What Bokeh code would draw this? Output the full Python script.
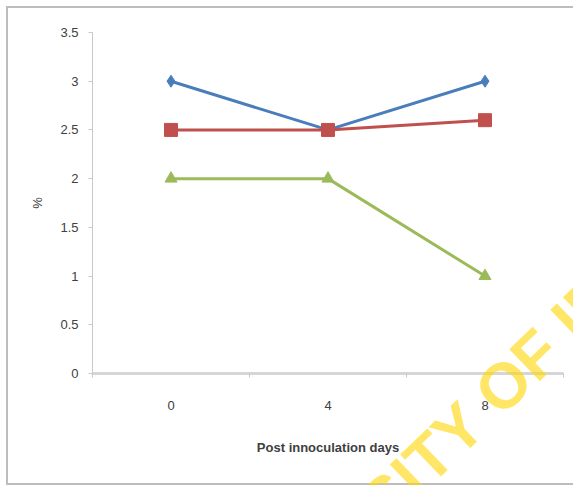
from bokeh.plotting import figure
from bokeh.models import Range1d, LinearAxis, FixedTicker, Div
from bokeh.layouts import column
from bokeh.embed import file_html
from bokeh.resources import INLINE

days = ["0", "4", "8"]
series_blue = [3.0, 2.5, 3.0]
series_red = [2.5, 2.5, 2.6]
series_green = [2.0, 2.0, 1.0]
y_ticks = [0, 0.5, 1, 1.5, 2, 2.5, 3, 3.5]
y_tick_labels = ["0", "0.5", "1", "1.5", "2", "2.5", "3", "3.5"]
x_label = "Post innoculation days"
y_label = "%"
watermark = "UNIVERSITY OF IBADAN"

FONT = "Liberation Sans"
TXT = "#404040"

# category slots: each day occupies one unit, centred at i + 0.5
xpos = [i + 0.5 for i in range(len(days))]
bounds = list(range(len(days) + 1))

p = figure(x_range=Range1d(0, len(days)), y_range=Range1d(0, 3.5),
           frame_width=469, frame_height=337,
           min_border_left=84, min_border_right=12, min_border_top=24, min_border_bottom=114,
           x_axis_location=None, y_axis_location=None,
           output_backend="svg", toolbar_location=None)
p.styles = {"border-left": "2px solid #bdbdbd", "border-top": "2px solid #bdbdbd",
            "border-bottom": "2px solid #bdbdbd", "margin-left": "6px", "margin-top": "6px"}
p.outline_line_color = None
p.xgrid.visible = False
p.ygrid.visible = False
p.background_fill_color = "white"
p.border_fill_color = "white"

# y axis
yax = LinearAxis(ticker=FixedTicker(ticks=y_ticks))
yax.major_label_overrides = {t: l for t, l in zip(y_ticks, y_tick_labels)}
yax.axis_line_color = "#c8c8c8"
yax.major_tick_line_color = "#c8c8c8"
yax.major_tick_in = 0
yax.major_tick_out = 4
yax.minor_tick_line_color = None
yax.major_label_text_font = FONT
yax.major_label_text_font_size = "13px"
yax.major_label_text_color = TXT
yax.major_label_standoff = 10
yax.axis_label = y_label
yax.axis_label_text_font = FONT
yax.axis_label_text_font_style = "normal"
yax.axis_label_text_font_size = "13px"
yax.axis_label_text_color = TXT
yax.axis_label_standoff = 12
p.add_layout(yax, "left")

# x axis: category labels at slot centres, small ticks at slot boundaries
xax = LinearAxis(ticker=FixedTicker(ticks=xpos, minor_ticks=bounds))
xax.major_label_overrides = {x: d for x, d in zip(xpos, days)}
xax.axis_line_color = "#d6d6d6"
xax.axis_line_width = 3
xax.major_tick_line_color = None
xax.minor_tick_line_color = "#c8c8c8"
xax.minor_tick_in = 0
xax.minor_tick_out = 4
xax.major_label_text_font = FONT
xax.major_label_text_font_size = "13px"
xax.major_label_text_color = TXT
xax.major_label_standoff = 21
xax.axis_label = x_label
xax.axis_label_text_font = FONT
xax.axis_label_text_font_style = "bold"
xax.axis_label_text_font_size = "13px"
xax.axis_label_text_color = TXT
xax.axis_label_standoff = 27
p.add_layout(xax, "below")

# series
p.line(xpos, series_blue, line_color="#4a7ebb", line_width=3)
p.scatter(xpos, series_blue, marker="diamond", size=12, fill_color="#4a7ebb", line_color="#4a7ebb")

p.line(xpos, series_red, line_color="#c0504d", line_width=3)
p.scatter(xpos, series_red, marker="square", size=13, fill_color="#c0504d", line_color="#c0504d")

p.line(xpos, series_green, line_color="#9bbb59", line_width=3)
p.scatter(xpos, series_green, marker="triangle", size=12, fill_color="#9bbb59", line_color="#9bbb59")

# watermark overlay
wm = Div(text=watermark, width=760, height=80,
         styles={"position": "absolute", "left": "112px", "top": "437px",
                 "transform": "rotate(-44deg)", "transform-origin": "50% 50%",
                 "font-family": "'Liberation Sans', Arial, sans-serif",
                 "font-weight": "bold", "font-size": "64px", "line-height": "80px",
                 "text-align": "center", "white-space": "nowrap",
                 "color": "rgba(255, 214, 0, 0.6)", "pointer-events": "none",
                 "z-index": "10"})

layout = column(p, wm, styles={"position": "relative", "overflow": "hidden"})

open("out.html", "w").write(file_html(layout, INLINE))
